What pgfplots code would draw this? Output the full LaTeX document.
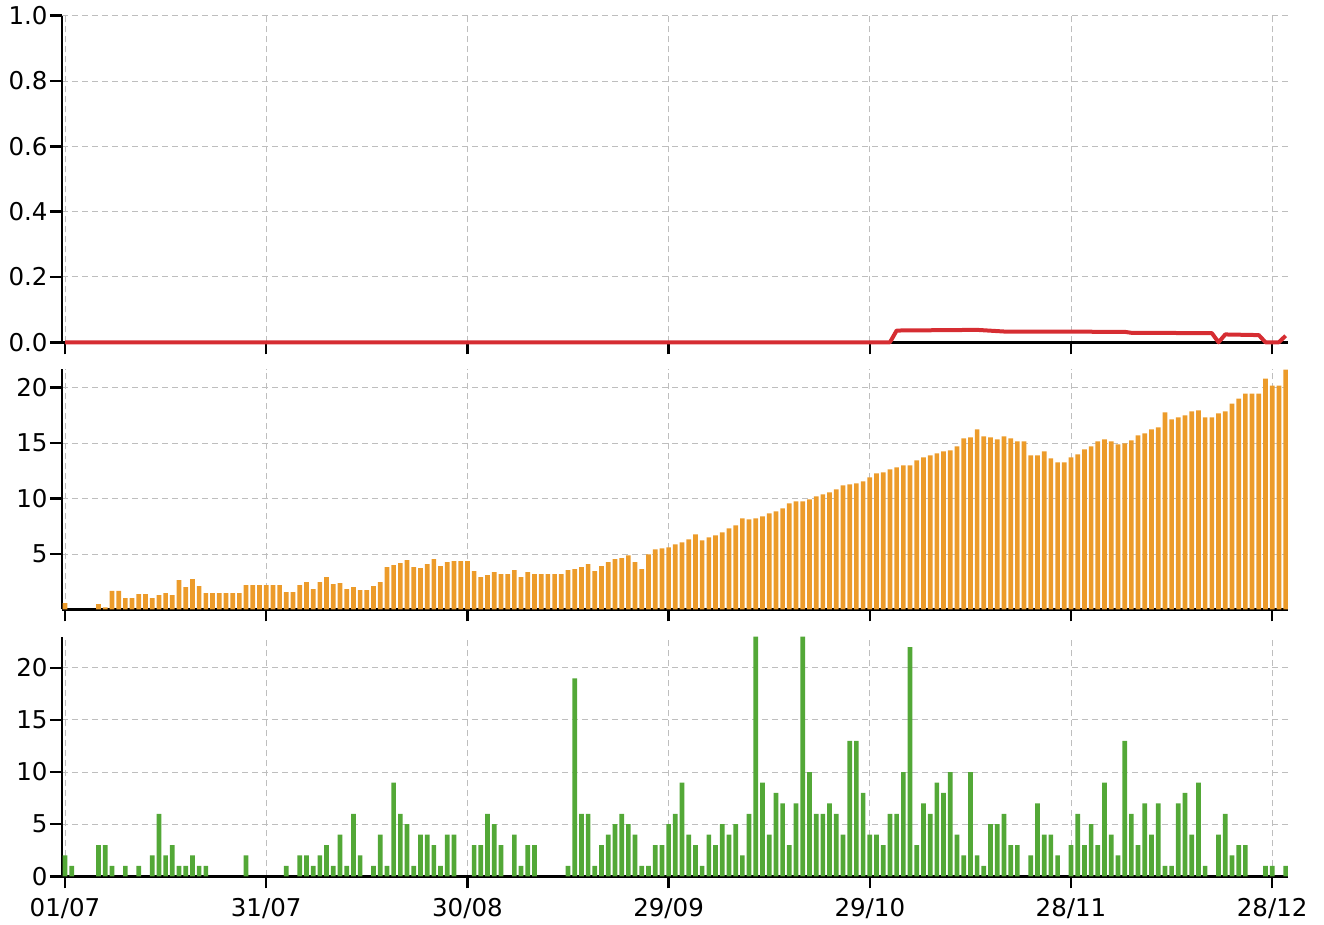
\documentclass[border=0pt]{standalone}
\usepackage{fontspec}
\setmainfont{DejaVu Sans}
\usepackage{pgfplots}
\usepackage{pgfplotstable}
\pgfplotsset{compat=1.18}
\definecolor{cred}{RGB}{214,45,50}
\definecolor{corange}{RGB}{236,155,42}
\definecolor{cgreen}{RGB}{83,168,55}
\definecolor{cgrid}{RGB}{190,190,190}

\pgfplotstableread{
d v
0 0.57
5 0.48
6 0.2
7 1.68
8 1.68
9 1.02
10 1.02
11 1.38
12 1.38
13 1.02
14 1.29
15 1.47
16 1.29
17 2.64
18 2.01
19 2.73
20 2.1
21 1.47
22 1.47
23 1.47
24 1.47
25 1.47
26 1.47
27 2.19
28 2.19
29 2.19
30 2.19
31 2.19
32 2.19
33 1.56
34 1.56
35 2.19
36 2.46
37 1.83
38 2.46
39 2.91
40 2.28
41 2.37
42 1.83
43 2.01
44 1.74
45 1.74
46 2.1
47 2.46
48 3.81
49 3.99
50 4.17
51 4.44
52 3.81
53 3.72
54 4.08
55 4.53
56 3.9
57 4.26
58 4.35
59 4.35
60 4.35
61 3.45
62 2.91
63 3.09
64 3.36
65 3.18
66 3.18
67 3.54
68 2.91
69 3.36
70 3.18
71 3.18
72 3.18
73 3.18
74 3.18
75 3.54
76 3.63
77 3.81
78 4.08
79 3.45
80 3.9
81 4.26
82 4.53
83 4.62
84 4.89
85 4.26
86 3.63
87 4.98
88 5.43
89 5.52
90 5.61
91 5.88
92 6.06
93 6.33
94 6.78
95 6.24
96 6.51
97 6.69
98 6.96
99 7.32
100 7.59
101 8.22
102 8.13
103 8.22
104 8.4
105 8.67
106 8.85
107 9.12
108 9.57
109 9.75
110 9.75
111 9.93
112 10.2
113 10.38
114 10.56
115 10.83
116 11.19
117 11.28
118 11.37
119 11.55
120 11.91
121 12.27
122 12.36
123 12.63
124 12.81
125 12.99
126 12.99
127 13.44
128 13.71
129 13.89
130 14.07
131 14.25
132 14.34
133 14.7
134 15.42
135 15.51
136 16.23
137 15.6
138 15.51
139 15.33
140 15.6
141 15.42
142 15.15
143 15.15
144 13.89
145 13.89
146 14.25
147 13.62
148 13.26
149 13.26
150 13.71
151 13.98
152 14.43
153 14.7
154 15.15
155 15.33
156 15.15
157 14.88
158 14.97
159 15.24
160 15.69
161 15.87
162 16.23
163 16.41
164 17.76
165 17.13
166 17.31
167 17.49
168 17.85
169 17.94
170 17.31
171 17.31
172 17.67
173 17.85
174 18.57
175 19.02
176 19.47
177 19.47
178 19.47
179 20.82
180 20.19
181 20.19
182 21.63
}\orangedata

\pgfplotstableread{
d v
0 2
1 1
5 3
6 3
7 1
9 1
11 1
13 2
14 6
15 2
16 3
17 1
18 1
19 2
20 1
21 1
27 2
33 1
35 2
36 2
37 1
38 2
39 3
40 1
41 4
42 1
43 6
44 2
46 1
47 4
48 1
49 9
50 6
51 5
52 1
53 4
54 4
55 3
56 1
57 4
58 4
61 3
62 3
63 6
64 5
65 3
67 4
68 1
69 3
70 3
75 1
76 19
77 6
78 6
79 1
80 3
81 4
82 5
83 6
84 5
85 4
86 1
87 1
88 3
89 3
90 5
91 6
92 9
93 4
94 3
95 1
96 4
97 3
98 5
99 4
100 5
101 2
102 6
103 23
104 9
105 4
106 8
107 7
108 3
109 7
110 23
111 10
112 6
113 6
114 7
115 6
116 4
117 13
118 13
119 8
120 4
121 4
122 3
123 6
124 6
125 10
126 22
127 3
128 7
129 6
130 9
131 8
132 10
133 4
134 2
135 10
136 2
137 1
138 5
139 5
140 6
141 3
142 3
144 2
145 7
146 4
147 4
148 2
150 3
151 6
152 3
153 5
154 3
155 9
156 4
157 2
158 13
159 6
160 3
161 7
162 4
163 7
164 1
165 1
166 7
167 8
168 4
169 9
170 1
172 4
173 6
174 2
175 3
176 3
179 1
180 1
182 1
}\greendata

\pgfplotsset{
  panel/.style={
    scale only axis, width=1226.3pt, xmin=-0.45, xmax=182.4,
    anchor=south west,
    axis x line*=bottom, axis y line*=left,
    axis line style={black, line width=2.5pt},
    tick align=outside, major tick length=12pt,
    tick style={black, line width=2.5pt},
    xtick={0,30,60,90,120,150,180},
    grid=major,
    major grid style={cgrid, line width=1pt, dash pattern=on 6pt off 4pt},
    tick label style={font=\fontsize{24.5}{29}\selectfont},
    yticklabel style={xshift=1pt},
    xticklabel style={yshift=-6pt},
  }
}

\begin{document}
\begin{tikzpicture}
\useasboundingbox (0pt,0pt) rectangle (1324pt,925pt);

\begin{axis}[panel, at={(62pt,582.7pt)}, height=326.6pt,
  ymin=0, ymax=1, ytick={0,0.2,0.4,0.6,0.8,1},
  yticklabels={0.0,0.2,0.4,0.6,0.8,1.0}, xticklabels={}, clip=false]
\addplot[cred, line width=4pt, line join=round] coordinates {
(0,0) (123,0) (124,0.036) (130,0.037) (136,0.038) (140,0.033) (158,0.032)
(159,0.029) (171,0.028) (172,0) (173,0.024) (178,0.022) (179,0) (181,0) (182,0.02)};
\end{axis}

\begin{axis}[panel, at={(62pt,315.5pt)}, height=240.7pt,
  ymin=0, ymax=21.7, ytick={5,10,15,20}, yticklabels={5,10,15,20}, xticklabels={}]
\addplot[ybar, bar width=0.7, bar shift=0pt, fill=corange, draw=none] table[x=d, y=v] {\orangedata};
\end{axis}

\begin{axis}[panel, at={(62pt,48.7pt)}, height=239.7pt,
  ymin=0, ymax=23, ytick={0,5,10,15,20}, yticklabels={0,5,10,15,20},
  xticklabels={01/07,31/07,30/08,29/09,29/10,28/11,28/12}]
\addplot[ybar, bar width=0.7, bar shift=0pt, fill=cgreen, draw=none] table[x=d, y=v] {\greendata};
\end{axis}
\end{tikzpicture}
\end{document}
